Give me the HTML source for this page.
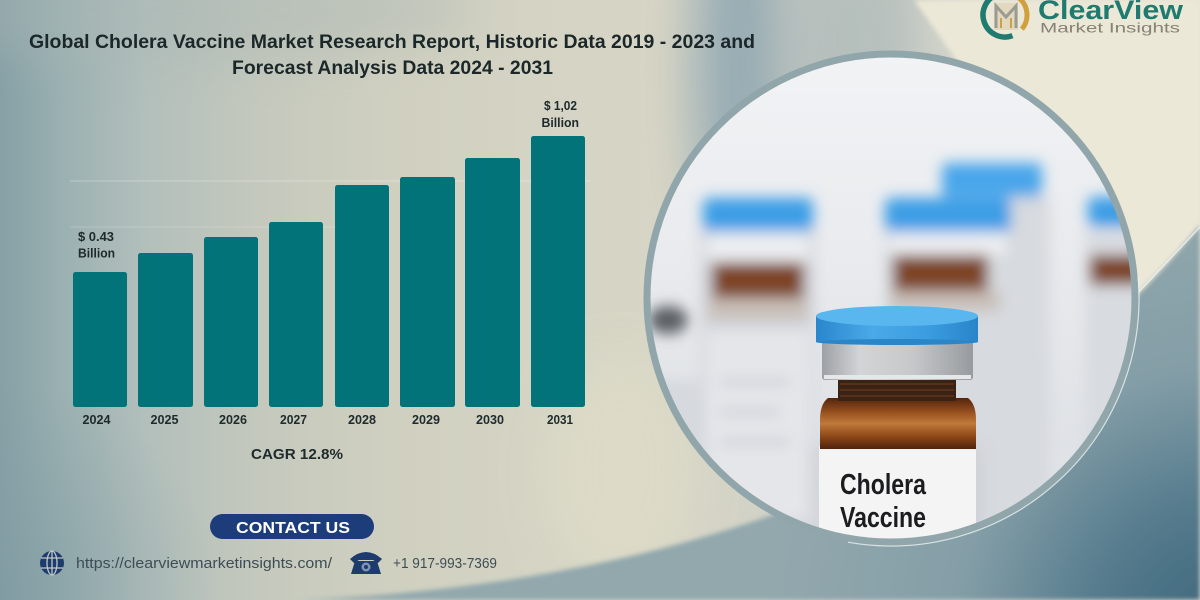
<!DOCTYPE html>
<html>
<head>
<meta charset="utf-8">
<style>
  html,body{margin:0;padding:0;background:#cfd0c3;width:1200px;height:600px;overflow:hidden;}
  svg{display:block;position:absolute;left:0;top:0;}
  text{font-family:"Liberation Sans", Arial, sans-serif;}
</style>
</head>
<body>
<svg width="1200" height="600" viewBox="0 0 1200 600" xmlns="http://www.w3.org/2000/svg">
  <defs>
    <linearGradient id="bgH" x1="0" y1="0" x2="1200" y2="0" gradientUnits="userSpaceOnUse">
      <stop offset="0" stop-color="#86a0a6"/>
      <stop offset="0.05" stop-color="#9ab0b1"/>
      <stop offset="0.12" stop-color="#b2bfbb"/>
      <stop offset="0.22" stop-color="#c5c9bd"/>
      <stop offset="0.33" stop-color="#d0d0c0"/>
      <stop offset="0.45" stop-color="#d5d4c4"/>
      <stop offset="0.55" stop-color="#d7d5c5"/>
      <stop offset="0.7" stop-color="#cdd0c8"/>
      <stop offset="1" stop-color="#e6e3d3"/>
    </linearGradient>
    <radialGradient id="lowG" cx="1230" cy="640" r="460" gradientUnits="userSpaceOnUse">
      <stop offset="0" stop-color="#3a6378"/>
      <stop offset="0.3" stop-color="#557b8d"/>
      <stop offset="0.6" stop-color="#849ea7"/>
      <stop offset="1" stop-color="#93a8ad"/>
    </radialGradient>
    <radialGradient id="blG" cx="0" cy="600" r="220" gradientUnits="userSpaceOnUse">
      <stop offset="0" stop-color="#7d99a1" stop-opacity="0.6"/>
      <stop offset="1" stop-color="#7d99a1" stop-opacity="0"/>
    </radialGradient>
    <linearGradient id="inner" x1="0" y1="54" x2="0" y2="542" gradientUnits="userSpaceOnUse">
      <stop offset="0" stop-color="#f2f3f5"/>
      <stop offset="0.4" stop-color="#e9ebee"/>
      <stop offset="0.8" stop-color="#dfe2e6"/>
      <stop offset="1" stop-color="#e4e6e9"/>
    </linearGradient>
    <linearGradient id="capSide" x1="816" y1="0" x2="978" y2="0" gradientUnits="userSpaceOnUse">
      <stop offset="0" stop-color="#2a86cc"/>
      <stop offset="0.35" stop-color="#4aaae8"/>
      <stop offset="0.7" stop-color="#3a9ce0"/>
      <stop offset="1" stop-color="#2a84c8"/>
    </linearGradient>
    <linearGradient id="crimp" x1="822" y1="0" x2="973" y2="0" gradientUnits="userSpaceOnUse">
      <stop offset="0" stop-color="#9da1a5"/>
      <stop offset="0.25" stop-color="#d2d4d6"/>
      <stop offset="0.6" stop-color="#c6c8ca"/>
      <stop offset="1" stop-color="#979b9f"/>
    </linearGradient>
    <linearGradient id="amber" x1="0" y1="397" x2="0" y2="450" gradientUnits="userSpaceOnUse">
      <stop offset="0" stop-color="#4e220c"/>
      <stop offset="0.3" stop-color="#9a5220"/>
      <stop offset="0.5" stop-color="#c07a3a"/>
      <stop offset="0.75" stop-color="#8c4618"/>
      <stop offset="1" stop-color="#4a200c"/>
    </linearGradient>
    <filter id="b25" x="-80%" y="-80%" width="260%" height="260%"><feGaussianBlur stdDeviation="25"/></filter>
    <filter id="b2" x="-10%" y="-10%" width="120%" height="120%"><feGaussianBlur stdDeviation="2.5"/></filter>
    <filter id="b6" x="-30%" y="-30%" width="160%" height="160%"><feGaussianBlur stdDeviation="7"/></filter>
    <clipPath id="circ"><circle cx="891" cy="298" r="241"/></clipPath>
    <clipPath id="frame"><rect x="0" y="0" width="1200" height="600"/></clipPath>
  </defs>

  <g clip-path="url(#frame)">
  <!-- background -->
  <rect x="0" y="0" width="1200" height="600" fill="url(#bgH)"/>
  <rect x="0" y="380" width="220" height="220" fill="url(#blG)"/>
  <ellipse cx="180" cy="10" rx="300" ry="50" fill="#a9b6b4" opacity="0.45" filter="url(#b25)"/>
  <ellipse cx="742" cy="70" rx="48" ry="210" fill="#8da5b1" opacity="0.85" filter="url(#b25)"/>
  <ellipse cx="850" cy="40" rx="70" ry="120" fill="#b0bbba" opacity="0.8" filter="url(#b25)"/>
  <ellipse cx="620" cy="470" rx="70" ry="110" fill="#dedbc8" opacity="0.9" filter="url(#b25)"/>
  <polygon points="914,0 1200,0 1200,226 1138,292 1000,260 958,62" fill="#ece8d7" filter="url(#b2)"/>
  <path d="M300 600 C 650 585, 1000 480, 1200 225 L 1200 600 Z" fill="url(#lowG)" filter="url(#b2)"/>
  <line x1="1132" y1="299" x2="1200" y2="227" stroke="#eef3f2" stroke-width="1.5" opacity="0.8"/>

  <!-- title -->
  <text x="29" y="48" textLength="726" lengthAdjust="spacingAndGlyphs" font-size="19" font-weight="bold" fill="#1b2729">Global Cholera Vaccine Market Research Report, Historic Data 2019 - 2023 and</text>
  <text x="232" y="74" textLength="321" lengthAdjust="spacingAndGlyphs" font-size="19" font-weight="bold" fill="#1b2729">Forecast Analysis Data 2024 - 2031</text>

  <!-- gridlines -->
  <line x1="70" y1="181" x2="590" y2="181" stroke="#ffffff" stroke-opacity="0.3" stroke-width="1"/>
  <line x1="70" y1="227" x2="340" y2="227" stroke="#ffffff" stroke-opacity="0.2" stroke-width="1"/>

  <!-- bars -->
  <g fill="#03737a">
    <rect x="73" y="272" width="54" height="135" rx="2.5"/>
    <rect x="138" y="253" width="55" height="154" rx="2.5"/>
    <rect x="204" y="237" width="54" height="170" rx="2.5"/>
    <rect x="269" y="222" width="54" height="185" rx="2.5"/>
    <rect x="335" y="185" width="54" height="222" rx="2.5"/>
    <rect x="400" y="177" width="55" height="230" rx="2.5"/>
    <rect x="465" y="158" width="55" height="249" rx="2.5"/>
    <rect x="531" y="136" width="54" height="271" rx="2.5"/>
  </g>

  <!-- value labels -->
  <g font-weight="bold" fill="#1e2a2c" font-size="12.5">
    <text x="78" y="241" textLength="36" lengthAdjust="spacingAndGlyphs">$ 0.43</text>
    <text x="78" y="257.5" textLength="37" lengthAdjust="spacingAndGlyphs">Billion</text>
    <text x="544" y="110" textLength="33" lengthAdjust="spacingAndGlyphs">$ 1,02</text>
    <text x="541.5" y="127" textLength="37.5" lengthAdjust="spacingAndGlyphs">Billion</text>
  </g>

  <!-- year labels -->
  <g font-weight="bold" fill="#1e2a2c" font-size="12.5" text-anchor="middle">
    <text x="96.5" y="424" textLength="28" lengthAdjust="spacingAndGlyphs">2024</text>
    <text x="164.5" y="424" textLength="28" lengthAdjust="spacingAndGlyphs">2025</text>
    <text x="233" y="424" textLength="28" lengthAdjust="spacingAndGlyphs">2026</text>
    <text x="293.5" y="424" textLength="27" lengthAdjust="spacingAndGlyphs">2027</text>
    <text x="362" y="424" textLength="28" lengthAdjust="spacingAndGlyphs">2028</text>
    <text x="426" y="424" textLength="28" lengthAdjust="spacingAndGlyphs">2029</text>
    <text x="490" y="424" textLength="28" lengthAdjust="spacingAndGlyphs">2030</text>
    <text x="560" y="424" textLength="26" lengthAdjust="spacingAndGlyphs">2031</text>
  </g>

  <text x="251" y="459" textLength="92" lengthAdjust="spacingAndGlyphs" font-size="15" font-weight="bold" fill="#1e2a2c">CAGR 12.8%</text>

  <!-- contact button -->
  <rect x="210" y="514" width="164" height="25" rx="12.5" fill="#1c3d7a"/>
  <text x="236" y="533" textLength="114" lengthAdjust="spacingAndGlyphs" font-size="16" font-weight="bold" fill="#ffffff">CONTACT US</text>

  <!-- globe icon -->
  <g>
    <circle cx="52" cy="563" r="12" fill="#1e3b6e"/>
    <g stroke="#c2c9c4" stroke-width="1.3" fill="none">
      <ellipse cx="52" cy="563" rx="5" ry="12"/>
      <line x1="52" y1="551" x2="52" y2="575"/>
      <line x1="41" y1="558" x2="63" y2="558"/>
      <line x1="41" y1="568" x2="63" y2="568"/>
    </g>
  </g>
  <text x="76" y="568" textLength="256" lengthAdjust="spacingAndGlyphs" font-size="14.5" fill="#3e4d55">https://clearviewmarketinsights.com/</text>

  <!-- phone icon -->
  <g fill="#1e3b6e">
    <path d="M350 559 Q366 545 382 559 L378 563 L373 560 L359 560 L354 563 Z"/>
    <path d="M355 561 L377 561 L381 574 L351 574 Z"/>
    <circle cx="366" cy="567" r="4.5" fill="#7e94b4"/>
    <circle cx="366" cy="567" r="2" fill="#1e3b6e"/>
  </g>
  <text x="393" y="568" textLength="104" lengthAdjust="spacingAndGlyphs" font-size="14.5" fill="#3e4d55">+1 917-993-7369</text>

  <!-- photo circle -->
  <g clip-path="url(#circ)">
    <rect x="640" y="50" width="510" height="500" fill="url(#inner)"/>
    <g filter="url(#b6)">
      <ellipse cx="668" cy="320" rx="20" ry="14" fill="#5a5e64"/>
      <rect x="650" y="380" width="50" height="160" fill="#d6d9de"/>
      <rect x="942" y="163" width="100" height="34" rx="5" fill="#4aa6ea"/>
      <rect x="1010" y="197" width="40" height="330" fill="#d7dadf"/>
      <rect x="700" y="230" width="115" height="300" fill="#d4d7dd"/>
      <rect x="703" y="198" width="110" height="34" rx="6" fill="#3e9ee6"/>
      <rect x="708" y="232" width="100" height="30" fill="#eceef1"/>
      <rect x="712" y="262" width="92" height="36" fill="#7d4526"/>
      <rect x="708" y="298" width="100" height="22" fill="#c9bfb8"/>
      <rect x="706" y="330" width="104" height="190" fill="#e4e6ea"/>
      <rect x="720" y="380" width="70" height="4" fill="#b8bcc3"/>
      <rect x="720" y="410" width="60" height="4" fill="#b8bcc3"/>
      <rect x="720" y="440" width="70" height="4" fill="#b8bcc3"/>
      <rect x="885" y="230" width="126" height="300" fill="#d7dadf"/>
      <rect x="885" y="198" width="126" height="34" rx="6" fill="#3e9ee6"/>
      <rect x="890" y="232" width="116" height="23" fill="#eceef1"/>
      <rect x="893" y="255" width="95" height="36" fill="#7d4526"/>
      <rect x="890" y="291" width="110" height="20" fill="#c9bfb8"/>
      <rect x="1085" y="230" width="70" height="300" fill="#d8dbe0"/>
      <rect x="1088" y="197" width="60" height="30" rx="5" fill="#3e9ee6"/>
      <rect x="1090" y="255" width="55" height="30" fill="#7d4526"/>
    </g>
    <rect x="812" y="446" width="170" height="100" fill="#c9ccd1" opacity="0.6" filter="url(#b6)"/>
    <rect x="819" y="446" width="157" height="100" fill="#f4f4f4"/>
    <path d="M828 398 Q820 404 820 420 L820 449 L976 449 L976 420 Q976 404 968 398 Z" fill="url(#amber)"/>
    <rect x="838" y="377" width="118" height="24" fill="#3a2214"/>
    <g stroke="#6a3a1c" stroke-width="1.2">
      <line x1="840" y1="384" x2="954" y2="384"/>
      <line x1="840" y1="390" x2="954" y2="390"/>
      <line x1="840" y1="396" x2="954" y2="396"/>
    </g>
    <rect x="822" y="338" width="151" height="42" rx="3" fill="url(#crimp)"/>
    <rect x="824" y="375" width="147" height="4" fill="#e6e7e8"/>
    <rect x="816" y="316" width="162" height="26" fill="url(#capSide)"/>
    <ellipse cx="897" cy="342" rx="81" ry="3" fill="#2b86c8"/>
    <ellipse cx="897" cy="316" rx="81" ry="10" fill="#5ab6ef"/>
    <text x="840" y="494" textLength="86" lengthAdjust="spacingAndGlyphs" font-size="29" font-weight="bold" fill="#1c1c20">Cholera</text>
    <text x="840" y="527" textLength="86" lengthAdjust="spacingAndGlyphs" font-size="29" font-weight="bold" fill="#1c1c20">Vaccine</text>
  </g>
  <circle cx="891" cy="298" r="244" fill="none" stroke="#91a6aa" stroke-width="7"/>
  <path d="M1138.1 276.4 A248 248 0 0 1 847.9 542.2" fill="none" stroke="#e9f0ef" stroke-width="1.2" opacity="0.85"/>

  <!-- logo -->
  <rect x="994" y="3" width="24" height="27" fill="#e2d8bd"/>
  <path d="M996 28 L996 6 L1006 17 L1016 6 L1016 28" fill="none" stroke="#9b9b93" stroke-width="3"/>
  <path d="M1001 28 L1001 18 M1011 28 L1011 18" stroke="#c9a24a" stroke-width="2"/>
  <path d="M1012.5 35.7 A22 22 0 0 1 997.5 -5.7" fill="none" stroke="#1f7a70" stroke-width="5.5"/>
  <path d="M1019.1 -1.9 A22 22 0 0 1 1021.9 29.1" fill="none" stroke="#d0a03c" stroke-width="5"/>
  <text x="1038" y="19" textLength="145" lengthAdjust="spacingAndGlyphs" font-size="27" font-weight="bold" fill="#1f7a70">ClearView</text>
  <text x="1040" y="32.5" textLength="140" lengthAdjust="spacingAndGlyphs" font-size="14" fill="#878274">Market Insights</text>
  </g>
</svg>
</body>
</html>
